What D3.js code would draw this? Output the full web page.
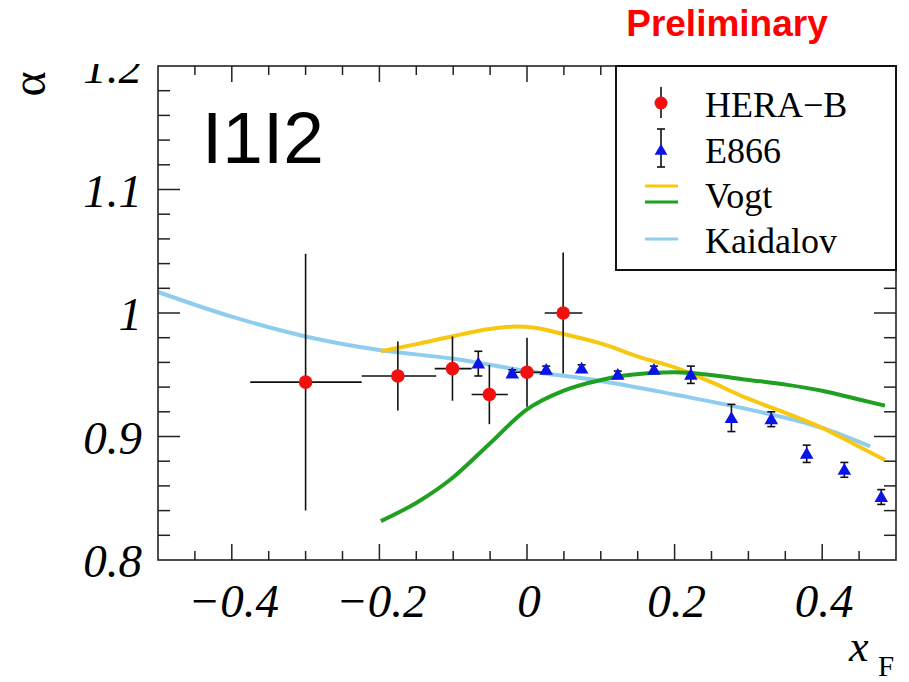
<html>
<head>
	<title>alpha vs xF</title>
	<meta charset="utf-8">
	<script src="https://d3js.org/d3.v7.min.js"></script>
	<style>
		body { margin: 0; background: #fff; }
		text { font-family: "Liberation Serif", "DejaVu Serif", serif; }
	</style>
</head>
<body>
	<script type="text/javascript">
		var width = 909
		var height = 682

		// HERA-B points: xF, alpha, x error low/high, y error
		var heraX    = [-0.300, -0.175, -0.101, -0.051, 0.000, 0.049]
		var heraY    = [0.944, 0.949, 0.955, 0.934, 0.952, 1.000]
		var heraXlo  = [-0.375, -0.224, -0.125, -0.075, -0.025, 0.024]
		var heraXhi  = [-0.224, -0.123, -0.075, -0.026, 0.025, 0.075]
		var heraYerr = [0.104, 0.028, 0.026, 0.024, 0.028, 0.049]

		// E866 points
		var e866X    = [-0.066, -0.020, 0.026, 0.074, 0.123, 0.172, 0.222, 0.277, 0.331, 0.379, 0.430, 0.480]
		var e866Y    = [0.959, 0.951, 0.954, 0.955, 0.950, 0.954, 0.950, 0.915, 0.914, 0.886, 0.873, 0.851]
		var e866Yerr = [0.010, 0.003, 0.003, 0.003, 0.003, 0.003, 0.007, 0.011, 0.006, 0.007, 0.006, 0.006]

		// model curves
		var vogt1X = [-0.198, -0.148, -0.102, -0.051, -0.016, 0.010, 0.049, 0.102, 0.154, 0.200, 0.246, 0.298, 0.351, 0.400, 0.443, 0.485]
		var vogt1Y = [0.969, 0.975, 0.981, 0.987, 0.989, 0.988, 0.983, 0.975, 0.964, 0.956, 0.945, 0.931, 0.919, 0.907, 0.894, 0.881]
		var vogt2X = [-0.198, -0.148, -0.102, -0.051, 0.000, 0.049, 0.102, 0.141, 0.200, 0.246, 0.298, 0.351, 0.400, 0.443, 0.485]
		var vogt2Y = [0.8315, 0.847, 0.866, 0.894, 0.922, 0.937, 0.946, 0.950, 0.952, 0.950, 0.946, 0.942, 0.937, 0.931, 0.925]
		var kaidX  = [-0.500, -0.400, -0.300, -0.200, -0.100, 0.000, 0.100, 0.200, 0.300, 0.400, 0.465]
		var kaidY  = [1.017, 0.997, 0.981, 0.970, 0.963, 0.953, 0.945, 0.934, 0.922, 0.907, 0.892]

		var xTicks = [-0.4, -0.2, 0, 0.2, 0.4]
		var xTickLabels = ["\u22120.4", "\u22120.2", "0", "0.2", "0.4"]
		var yTicks = [0.8, 0.9, 1.0, 1.1, 1.2]
		var yTickLabels = ["0.8", "0.9", "1", "1.1", "1.2"]

		var legendNames = ["HERA\u2212B", "E866", "Vogt", "Kaidalov"]

		// note: "top" is taken by window.top, so use other names
		var pL = 158, pR = 896, pT = 66, pB = 560

		var svg = d3.select("body").append("svg")
			.attr("width", width)
			.attr("height", height)

		var x = d3.scaleLinear().domain([-0.5, 0.5]).range([pL, pR])
		var y = d3.scaleLinear().domain([0.8, 1.2]).range([pB, pT])

		// tick labels
		svg.selectAll(".xl").data(xTicks).enter().append("text")
			.attr("x", d => x(d) + 2)
			.attr("y", 617)
			.attr("text-anchor", "middle")
			.attr("font-size", 47)
			.attr("font-style", "italic")
			.text((d, i) => xTickLabels[i])

		svg.selectAll(".yl").data(yTicks).enter().append("text")
			.attr("x", 142)
			.attr("y", d => y(d) + 17)
			.attr("text-anchor", "end")
			.attr("font-size", 47)
			.attr("font-style", "italic")
			.text((d, i) => yTickLabels[i])

		// top of "1.2" is cut in the original
		svg.append("rect").attr("x", 60).attr("y", 0).attr("width", 95).attr("height", 64).attr("fill", "white")

		// axis titles
		svg.append("text")
			.attr("transform", "translate(45,84) rotate(-90)")
			.attr("text-anchor", "middle")
			.attr("font-size", 48)
			.text("\u03b1")

		svg.append("text").attr("x", 849).attr("y", 661).attr("font-size", 44)
			.attr("font-style", "italic").text("x")
		svg.append("text").attr("x", 878).attr("y", 676).attr("font-size", 29).text("F")

		// ticks
		var g = svg.append("g").attr("stroke", "#222").attr("stroke-width", 1.5)
		var xMinor = d3.range(-0.45, 0.5, 0.05).map(d => +d.toFixed(2))
		xMinor.forEach(function(d) {
			var k = Math.round(d * 20)
			var len = (k % 4 == 0) ? 16 : 9
			g.append("line").attr("x1", x(d)).attr("x2", x(d)).attr("y1", pB).attr("y2", pB - len)
			g.append("line").attr("x1", x(d)).attr("x2", x(d)).attr("y1", pT).attr("y2", pT + len)
		})
		var yMinor = d3.range(0.82, 1.2, 0.02).map(d => +d.toFixed(2))
		yMinor.forEach(function(d) {
			var k = Math.round(d * 50)
			var len = (k % 5 == 0) ? 22 : 12
			g.append("line").attr("x1", pL).attr("x2", pL + len).attr("y1", y(d)).attr("y2", y(d))
			g.append("line").attr("x1", pR).attr("x2", pR - len).attr("y1", y(d)).attr("y2", y(d))
		})

		// curves
		var line = d3.line().x(d => x(d[0])).y(d => y(d[1])).curve(d3.curveMonotoneX)
		function curve(xs, ys, color) {
			svg.append("path")
				.attr("d", line(d3.zip(xs, ys)))
				.attr("fill", "none")
				.attr("stroke", color)
				.attr("stroke-width", 4)
		}
		curve(kaidX, kaidY, "#8fcdee")
		curve(vogt1X, vogt1Y, "#f7c712")
		curve(vogt2X, vogt2Y, "#20a020")

		// HERA-B
		var hera = svg.append("g")
		heraX.forEach(function(d, i) {
			hera.append("line").attr("x1", x(heraXlo[i])).attr("x2", x(heraXhi[i]))
				.attr("y1", y(heraY[i])).attr("y2", y(heraY[i]))
				.attr("stroke", "#111").attr("stroke-width", 1.6)
			hera.append("line").attr("x1", x(d)).attr("x2", x(d))
				.attr("y1", y(heraY[i] - heraYerr[i])).attr("y2", y(heraY[i] + heraYerr[i]))
				.attr("stroke", "#111").attr("stroke-width", 1.6)
			hera.append("circle").attr("cx", x(d)).attr("cy", y(heraY[i])).attr("r", 6.8).attr("fill", "#f01010")
		})

		// E866
		var tri = d3.symbol().type(d3.symbolTriangle).size(80)
		var e866 = svg.append("g")
		e866X.forEach(function(d, i) {
			var ylo = y(e866Y[i] - e866Yerr[i]), yhi = y(e866Y[i] + e866Yerr[i])
			e866.append("line").attr("x1", x(d)).attr("x2", x(d)).attr("y1", ylo).attr("y2", yhi)
				.attr("stroke", "#111").attr("stroke-width", 1.6)
			;[ylo, yhi].forEach(function(yy) {
				e866.append("line").attr("x1", x(d) - 4).attr("x2", x(d) + 4).attr("y1", yy).attr("y2", yy)
					.attr("stroke", "#111").attr("stroke-width", 1.6)
			})
			e866.append("path").attr("d", tri).attr("transform", "translate(" + x(d) + "," + (y(e866Y[i]) + 1) + ")")
				.attr("fill", "#0a14e6")
		})

		// frame
		svg.append("rect").attr("x", pL).attr("y", pT).attr("width", pR - pL).attr("height", pB - pT)
			.attr("fill", "none").attr("stroke", "#222").attr("stroke-width", 1.6)

		// legend
		var lg = svg.append("g")
		lg.append("rect").attr("x", 616).attr("y", pT).attr("width", pR - 616).attr("height", 204)
			.attr("fill", "white").attr("stroke", "#111").attr("stroke-width", 2)
		var rows = [117, 162.5, 208, 253]
		lg.selectAll("text").data(legendNames).enter().append("text")
			.attr("x", 705).attr("y", (d, i) => rows[i])
			.attr("font-size", 36)
			.text(d => d)
		var mx = 661
		lg.append("line").attr("x1", mx).attr("x2", mx).attr("y1", 87).attr("y2", 118).attr("stroke", "#111").attr("stroke-width", 1.6)
		lg.append("circle").attr("cx", mx).attr("cy", 103).attr("r", 6.5).attr("fill", "#f01010")
		lg.append("line").attr("x1", mx).attr("x2", mx).attr("y1", 129).attr("y2", 167).attr("stroke", "#111").attr("stroke-width", 1.6)
		lg.append("line").attr("x1", mx - 4).attr("x2", mx + 4).attr("y1", 129).attr("y2", 129).attr("stroke", "#111").attr("stroke-width", 1.6)
		lg.append("line").attr("x1", mx - 4).attr("x2", mx + 4).attr("y1", 167).attr("y2", 167).attr("stroke", "#111").attr("stroke-width", 1.6)
		lg.append("path").attr("d", d3.symbol().type(d3.symbolTriangle).size(70)).attr("transform", "translate(" + mx + ",151)").attr("fill", "#0a14e6")
		lg.append("line").attr("x1", 645).attr("x2", 678).attr("y1", 186).attr("y2", 186).attr("stroke", "#f7c712").attr("stroke-width", 3)
		lg.append("line").attr("x1", 645).attr("x2", 678).attr("y1", 202).attr("y2", 202).attr("stroke", "#20a020").attr("stroke-width", 3)
		lg.append("line").attr("x1", 645).attr("x2", 678).attr("y1", 239).attr("y2", 239).attr("stroke", "#8fcdee").attr("stroke-width", 3)

		// annotations
		svg.append("text").attr("x", 202).attr("y", 163)
			.attr("style", "font-family: 'Liberation Sans', Arial, sans-serif")
			.attr("font-size", 73).text("I1I2")
		svg.append("text").attr("x", 727).attr("y", 36).attr("text-anchor", "middle")
			.attr("style", "font-family: 'Liberation Sans', Arial, sans-serif; font-weight: bold")
			.attr("font-size", 37).attr("fill", "#ff0000").text("Preliminary")
	</script>
</body>
</html>
